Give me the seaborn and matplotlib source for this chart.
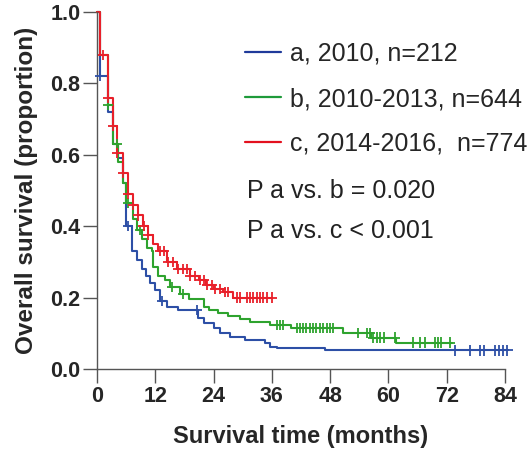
import numpy as np
import pandas as pd
import matplotlib
matplotlib.use("Agg")
import matplotlib.pyplot as plt
import seaborn as sns
from matplotlib.lines import Line2D

# ---------------- data ----------------
groups = ["a, 2010, n=212", "b, 2010-2013, n=644", "c, 2014-2016,  n=774"]
colors = ["#2d4fa6", "#2ea32e", "#e8202a"]

# step survival curves: time of step (months) and survival after the step
a_t = [0, 0.6, 2.3, 3.3, 4.3, 5.4, 6.0, 7.2, 8.2, 9.3, 10.0, 11.0, 12.0, 13.0, 14.4,
       16.7, 20.8, 22.0, 24.0, 25.3, 27.4, 30.5, 34.6, 35.6, 37.0, 47.0, 84.6]
a_s = [1.0, 0.82, 0.72, 0.63, 0.59, 0.52, 0.40, 0.33, 0.305, 0.28, 0.26, 0.24, 0.22, 0.19, 0.175,
       0.165, 0.143, 0.13, 0.115, 0.10, 0.09, 0.081, 0.073, 0.062, 0.058, 0.052, 0.052]

b_t = [0, 0.6, 2.3, 3.3, 4.3, 5.4, 6.0, 7.4, 8.2, 9.3, 10.3, 11.3, 11.6, 12.6, 14.0, 15.0,
       17.0, 19.0, 22.0, 23.0, 25.0, 27.0, 29.5, 31.5, 35.6, 40.0, 50.6, 56.5, 61.6, 73.0]
b_s = [1.0, 0.88, 0.74, 0.63, 0.58, 0.52, 0.465, 0.42, 0.39, 0.365, 0.34, 0.33, 0.285, 0.26, 0.25, 0.23,
       0.21, 0.195, 0.175, 0.165, 0.157, 0.148, 0.14, 0.132, 0.123, 0.115, 0.10, 0.088, 0.074, 0.074]

c_t = [0, 0.6, 2.3, 3.3, 4.1, 5.4, 6.4, 7.4, 8.4, 9.5, 10.5, 11.5, 12.6, 14.4, 16.5,
       19.1, 21.0, 22.5, 24.0, 26.0, 28.0, 36.1]
c_s = [1.0, 0.88, 0.76, 0.68, 0.605, 0.55, 0.49, 0.46, 0.43, 0.40, 0.375, 0.35, 0.33, 0.30, 0.28,
       0.26, 0.25, 0.235, 0.225, 0.215, 0.20, 0.20]

# censoring times (months)
a_cens = [0.7, 6.4, 13.4, 20.6, 73.7, 76.8, 78.9, 79.7, 81.9, 82.8, 83.6, 84.5]
b_cens = [2.3, 4.1, 6.4, 8.9, 15.5, 17.7, 37.1, 37.7, 38.3, 41.2, 41.8, 42.4, 43.1, 43.9,
          44.5, 45.1, 45.9, 46.6, 47.4, 48.0, 48.6, 53.8, 55.6, 56.2, 56.8, 57.6, 58.3,
          59.1, 61.4, 65.1, 66.5, 67.5, 69.6, 70.2, 70.8, 72.7]
c_cens = [1.2, 2.3, 3.3, 4.1, 5.4, 6.4, 7.4, 8.5, 9.6, 10.6, 13.0, 13.8, 14.7, 15.7, 16.7,
          17.8, 18.5, 19.2, 20.2, 21.2, 22.0, 22.7, 23.7, 24.3, 25.4, 26.4, 27.0, 28.8,
          29.5, 30.9, 31.5, 32.1, 32.9, 33.6, 34.2, 35.0, 36.1]

p_texts = ["P a vs. b = 0.020", "P a vs. c < 0.001"]
x_ticks = [0, 12, 24, 36, 48, 60, 72, 84]
y_ticks = [0.0, 0.2, 0.4, 0.6, 0.8, 1.0]

# ---------------- build tables ----------------
curves = pd.concat([
    pd.DataFrame({"t": t, "s": s, "group": g})
    for t, s, g in zip([a_t, b_t, c_t], [a_s, b_s, c_s], groups)
], ignore_index=True)


def step_value(ts, ss, x):
    idx = np.searchsorted(np.asarray(ts), x, side="right") - 1
    return np.asarray(ss)[idx]


cens = pd.concat([
    pd.DataFrame({"t": ct, "s": step_value(t, s, np.asarray(ct)), "group": g})
    for ct, t, s, g in zip([a_cens, b_cens, c_cens], [a_t, b_t, c_t], [a_s, b_s, c_s], groups)
], ignore_index=True)

# ---------------- plot ----------------
sns.set_style("white")
plt.rcParams["font.family"] = ["Liberation Sans", "DejaVu Sans"]

fig = plt.figure(figsize=(5.32, 4.53), dpi=100)
ax = fig.add_axes([97 / 532, 1 - 369 / 453, (505 - 97) / 532, (369 - 12) / 453])

palette = dict(zip(groups, colors))
sns.lineplot(data=curves, x="t", y="s", hue="group", palette=palette, estimator=None,
             sort=False, drawstyle="steps-post", linewidth=1.5, legend=False, ax=ax)
for ln in ax.lines:
    ln.set_clip_on(False)
sns.scatterplot(data=cens, x="t", y="s", hue="group", palette=palette, marker="+",
                s=55, linewidth=1.3, legend=False, ax=ax, clip_on=False, zorder=3)

ax.set_xlim(0, 84)
ax.set_ylim(0, 1.0)
ax.set_xticks(x_ticks)
ax.set_xticklabels([str(v) for v in x_ticks])
ax.set_yticks(y_ticks)
ax.set_yticklabels([f"{v:.1f}" for v in y_ticks])

for side in ["top", "right"]:
    ax.spines[side].set_visible(False)
for side in ["left", "bottom"]:
    ax.spines[side].set_color("#555555")
    ax.spines[side].set_linewidth(1.0)
ax.tick_params(axis="both", direction="out", length=10, width=1.0, color="#555555",
               pad=2, labelsize=15.5, left=True, bottom=True)
for lab in ax.get_xticklabels() + ax.get_yticklabels():
    lab.set_fontweight("bold")

ax.set_xlabel("Survival time (months)", fontsize=17, fontweight="bold", labelpad=13)
ax.set_ylabel("Overall survival (proportion)", fontsize=17.5, fontweight="bold", labelpad=9)

handles = [Line2D([0], [0], color=c, lw=1.6) for c in ["#1f3a9a", "#1e9a3a", "#e3101e"]]
fig.legend(handles, groups, loc="upper left", bbox_to_anchor=(245 / 532, 1 - 42 / 453),
           frameon=False, fontsize=18, handlelength=1.45, handletextpad=0.35,
           labelspacing=0.84, borderpad=0, borderaxespad=0)

for i, txt in enumerate(p_texts):
    fig.text(247 / 532, 1 - (191 + 40 * i) / 453, txt, fontsize=18, va="center", ha="left",
             color="#222222")

fig.savefig("out.png", dpi=100)
